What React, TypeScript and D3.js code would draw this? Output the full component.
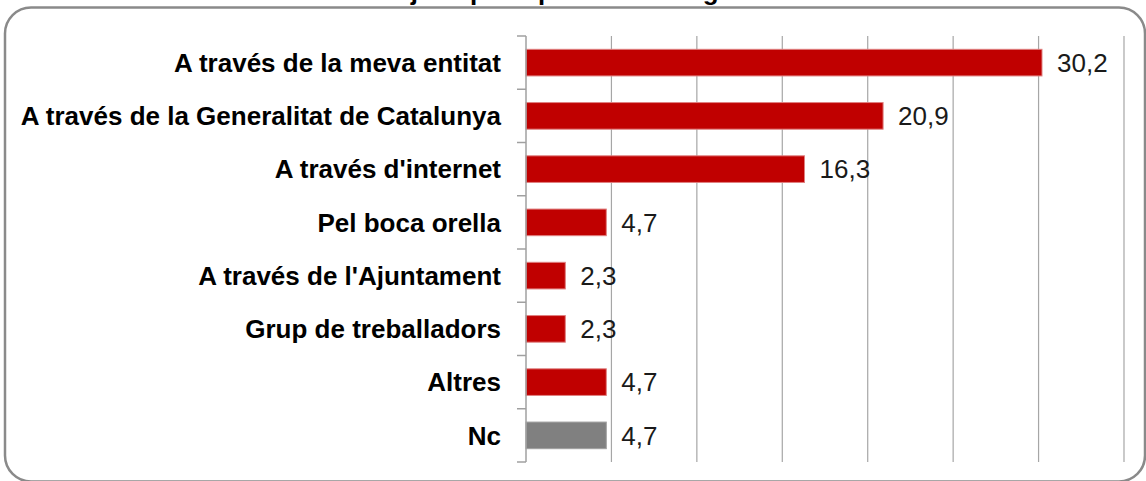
import * as d3 from "d3";

const categories = [
  "A través de la meva entitat",
  "A través de la Generalitat de Catalunya",
  "A través d'internet",
  "Pel boca orella",
  "A través de l'Ajuntament",
  "Grup de treballadors",
  "Altres",
  "Nc",
];
const values = [30.2, 20.9, 16.3, 4.7, 2.3, 2.3, 4.7, 4.7];
const valueLabels = ["30,2", "20,9", "16,3", "4,7", "2,3", "2,3", "4,7", "4,7"];
const xTicks = [0, 5, 10, 15, 20, 25, 30, 35];

const W = 1146;
const H = 481;
const plot = { left: 526, right: 1124, top: 36, bottom: 462 };

export default function App() {
  const x = d3.scaleLinear().domain([0, 35]).range([plot.left, plot.right]);
  const y = d3
    .scaleBand()
    .domain(categories)
    .range([plot.top, plot.bottom])
    .paddingInner(0.5)
    .paddingOuter(0.25);
  const step = y.step();

  return (
    <div style={{ position: "fixed", left: 0, top: 0 }}>
      <svg width={W} height={H} style={{ display: "block", fontFamily: "'Liberation Sans', Arial, sans-serif" }}>
        <rect x={0} y={0} width={W} height={H} fill="#fff" />
        {/* frame */}
        <rect x={5} y={7.5} width={1140} height={474} rx={26} fill="none" stroke="#8a8a8a" strokeWidth={2.5} />
        {/* title, cut off at the top like the source image */}
        <text x={262} y={-0.5} fontSize={26} fontWeight="bold">
          <tspan fill="#e03030">Gràfic 8.</tspan>
          <tspan fill="#000"> Mitjans pels quals ha conegut el servei</tspan>
        </text>

        {/* grid */}
        {xTicks.slice(1).map((t) => (
          <line key={t} x1={x(t)} x2={x(t)} y1={plot.top} y2={plot.bottom} stroke="#a6a6a6" strokeWidth={1.2} />
        ))}

        {/* bars */}
        {categories.map((c, i) => (
          <g key={c}>
            <rect
              x={x(0)}
              y={y(c)}
              width={x(values[i]) - x(0)}
              height={y.bandwidth()}
              fill={c === "Nc" ? "#808080" : "#c00000"}
              stroke={c === "Nc" ? "#a0a0a0" : "#e08080"}
              strokeWidth={1}
            />
            <text
              x={x(values[i]) + 15}
              y={(y(c) as number) + y.bandwidth() / 2}
              dy="0.36em"
              fontSize={26}
              fill="#1a1a1a"
            >
              {valueLabels[i]}
            </text>
            <text
              x={501}
              y={(y(c) as number) + y.bandwidth() / 2}
              dy="0.36em"
              textAnchor="end"
              fontSize={26}
              fontWeight="bold"
              fill="#000"
            >
              {c}
            </text>
          </g>
        ))}

        {/* category axis */}
        <line x1={plot.left} x2={plot.left} y1={plot.top} y2={plot.bottom} stroke="#a0a0a0" strokeWidth={1.5} />
        {d3.range(categories.length + 1).map((k) => (
          <line
            key={k}
            x1={plot.left - 9}
            x2={plot.left}
            y1={plot.top + k * step}
            y2={plot.top + k * step}
            stroke="#a0a0a0"
            strokeWidth={1.5}
          />
        ))}
      </svg>
    </div>
  );
}
